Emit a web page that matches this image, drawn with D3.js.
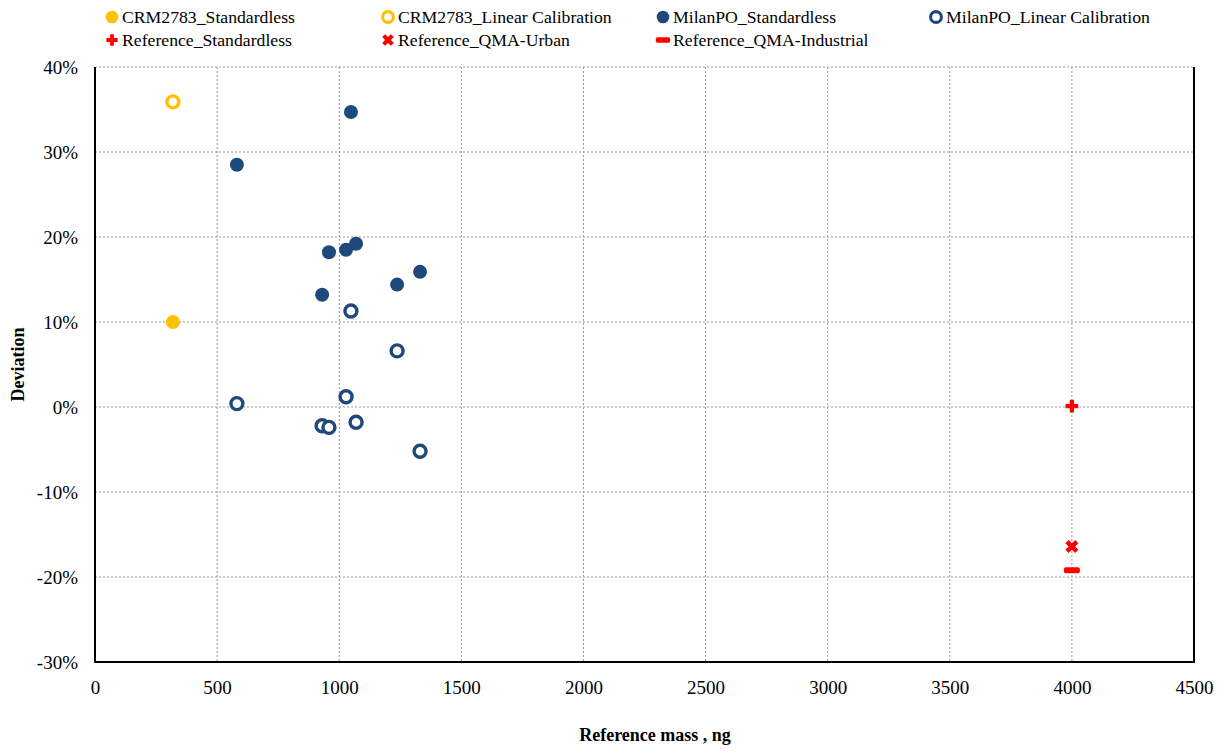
<!DOCTYPE html>
<html lang="en">
<head>
    <meta charset="UTF-8">
    <title>Deviation vs Reference mass</title>
    <script src="https://d3js.org/d3.v7.min.js"></script>
    <style>
        body {
            margin: 0;
            background: #fff;
            font-family: "Liberation Serif", "Times New Roman", serif;
        }
        .grid line {
            stroke: #999;
            stroke-width: 1;
            stroke-dasharray: 2,2;
        }
    </style>
</head>
<body>
    <div id="chart"></div>

    <script>
        // data
        const crmStdX = [319];
        const crmStdY = [0.100];
        const crmLinX = [319];
        const crmLinY = [0.359];

        const milanStdX = [581, 1048, 958, 1028, 1069, 1331, 1237, 930];
        const milanStdY = [0.285, 0.347, 0.182, 0.185, 0.192, 0.159, 0.144, 0.132];
        const milanLinX = [1048, 1237, 581, 1028, 930, 958, 1069, 1331];
        const milanLinY = [0.113, 0.066, 0.004, 0.012, -0.022, -0.024, -0.018, -0.052];

        const refStdX = [4000];
        const refStdY = [0.001];
        const refUrbanX = [4000];
        const refUrbanY = [-0.164];
        const refIndX = [4000];
        const refIndY = [-0.192];

        const xTicks = [0, 500, 1000, 1500, 2000, 2500, 3000, 3500, 4000, 4500];
        const yTicks = [-0.3, -0.2, -0.1, 0, 0.1, 0.2, 0.3, 0.4];

        const gold = "#FFC000";
        const navy = "#1F497D";
        const red = "#FF0000";
        const serif = '"Liberation Serif", "Times New Roman", serif';

        const width = 1227, height = 752;
        const margin = { left: 95, right: 33, top: 67, bottom: 90 };

        const svg = d3.select("#chart").append("svg")
            .attr("width", width)
            .attr("height", height)
            .style("font-family", serif);

        const x = d3.scaleLinear().domain([0, 4500]).range([margin.left, width - margin.right]);
        const y = d3.scaleLinear().domain([-0.3, 0.4]).range([height - margin.bottom, margin.top]);

        // grid
        const grid = svg.append("g").attr("class", "grid");
        grid.selectAll("line.v")
            .data(xTicks.slice(1, -1))
            .enter().append("line")
            .attr("x1", d => x(d)).attr("x2", d => x(d))
            .attr("y1", y(0.4)).attr("y2", y(-0.3));
        grid.selectAll("line.h")
            .data(yTicks.slice(1))
            .enter().append("line")
            .attr("x1", x(0)).attr("x2", x(4500))
            .attr("y1", d => y(d)).attr("y2", d => y(d));

        // frame: left, bottom, right solid
        svg.append("path")
            .attr("d", `M${x(0)},${y(0.4)} V${y(-0.3)} H${x(4500)} V${y(0.4)}`)
            .attr("fill", "none")
            .attr("stroke", "#000")
            .attr("stroke-width", 2);

        // axes
        const xAxis = svg.append("g")
            .attr("transform", `translate(0,${y(-0.3)})`)
            .call(d3.axisBottom(x).tickValues(xTicks).tickSize(0).tickPadding(19).tickFormat(d3.format("d")));
        xAxis.select(".domain").remove();

        const pct = d => Math.round(d * 100) + "%";
        const yAxis = svg.append("g")
            .attr("transform", `translate(${x(0)},0)`)
            .call(d3.axisLeft(y).tickValues(yTicks).tickSize(0).tickPadding(17).tickFormat(pct));
        yAxis.select(".domain").remove();

        [xAxis, yAxis].forEach(a => {
            a.attr("font-family", serif).attr("font-size", 19);
            a.selectAll(".tick text")
                .style("font-family", serif)
                .style("font-size", "19px")
                .attr("fill", "#000");
        });

        svg.append("text")
            .attr("x", 655)
            .attr("y", 741)
            .attr("text-anchor", "middle")
            .attr("font-size", 18)
            .attr("font-weight", "bold")
            .text("Reference mass , ng");

        svg.append("text")
            .attr("transform", `translate(24,${(y(0.4) + y(-0.3)) / 2}) rotate(-90)`)
            .attr("text-anchor", "middle")
            .attr("font-size", 18)
            .attr("font-weight", "bold")
            .text("Deviation");

        // marker drawers
        function filled(g, color) {
            g.append("circle").attr("r", 7).attr("fill", color);
        }
        function hollow(g, color) {
            g.append("circle").attr("r", 6).attr("fill", "#fff").attr("stroke", color).attr("stroke-width", 3.4);
        }
        function plus(g, color) {
            g.append("path").attr("d", d3.symbol(d3.symbolCross, 90)()).attr("fill", color);
        }
        function cross(g, color) {
            g.append("path").attr("d", d3.symbol(d3.symbolCross, 105)()).attr("fill", color)
                .attr("transform", "rotate(45)");
        }
        function dash(g, color) {
            g.append("rect").attr("x", -8).attr("y", -3).attr("width", 16).attr("height", 6)
                .attr("rx", 2).attr("fill", color);
        }

        const series = [
            { name: "CRM2783_Standardless", xs: crmStdX, ys: crmStdY, color: gold, draw: filled },
            { name: "CRM2783_Linear Calibration", xs: crmLinX, ys: crmLinY, color: gold, draw: hollow },
            { name: "MilanPO_Standardless", xs: milanStdX, ys: milanStdY, color: navy, draw: filled },
            { name: "MilanPO_Linear Calibration", xs: milanLinX, ys: milanLinY, color: navy, draw: hollow },
            { name: "Reference_Standardless", xs: refStdX, ys: refStdY, color: red, draw: plus },
            { name: "Reference_QMA-Urban", xs: refUrbanX, ys: refUrbanY, color: red, draw: cross },
            { name: "Reference_QMA-Industrial", xs: refIndX, ys: refIndY, color: red, draw: dash }
        ];

        series.forEach(s => {
            s.xs.forEach((v, i) => {
                const g = svg.append("g").attr("transform", `translate(${x(v)},${y(s.ys[i])})`);
                s.draw(g, s.color);
            });
        });

        // legend
        const legendX = [112, 388, 663, 936];
        const legendY = [17, 40];
        series.forEach((s, i) => {
            const col = i < 4 ? i : i - 4;
            const row = i < 4 ? 0 : 1;
            const g = svg.append("g").attr("transform", `translate(${legendX[col]},${legendY[row]})`);
            const m = g.append("g").attr("transform", "scale(0.9)");
            s.draw(m, s.color);
            g.append("text")
                .attr("x", 10)
                .attr("y", 6)
                .attr("font-size", 17.7)
                .text(s.name);
        });
    </script>
</body>
</html>
